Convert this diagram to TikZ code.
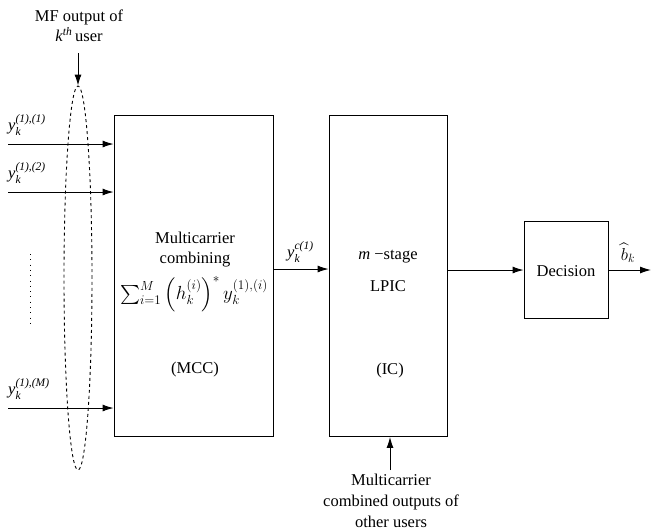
\documentclass[tikz,border=0pt]{standalone}
\usepackage{amsmath}
\usepackage{graphicx}
\usepackage{fontspec}
\setmainfont{Liberation Serif}
\usetikzlibrary{arrows.meta,shapes.geometric}
\begin{document}
\begin{tikzpicture}[x=1pt,y=-1pt,
  every node/.style={font=\rmfamily\fontsize{16.5}{20}\selectfont, inner sep=0pt},
  blk/.style={draw, line width=0.9pt},
  arr/.style={line width=0.9pt, -{Latex[length=11pt,width=7pt]}},
  lbl/.style={anchor=south west}]
\useasboundingbox (0,0) rectangle (651,531);
% blocks
\node[blk, minimum width=159pt, minimum height=321pt] (mcc) at (193.5,276) {};
\node[blk, minimum width=118pt, minimum height=321pt] (ic) at (388,276) {};
\node[blk, minimum width=84pt, minimum height=97pt] (dec) at (566,269.5) {};
% texts in blocks
\node[align=center] (mcct) at (195,250) {Multicarrier\\combining};
\node (form) at (194,294) {\resizebox{148pt}{!}{$\sum_{i=1}^{M}\left(h_k^{(i)}\right)^{*} y_k^{(1),(i)}$}};
\node (mccl) at (195,370) {(MCC)};
\node (ict1) at (388,257) {\textit{m} −stage};
\node (ict2) at (388,286) {LPIC};
\node (icl) at (390,371) {(IC)};
\node (dect) at (566,271) {Decision};
% inputs
\coordinate (in1) at (8,144);
\coordinate (in2) at (8,192);
\coordinate (inM) at (8,408);
\draw[arr] (in1) -- (in1 -| mcc.west);
\draw[arr] (in2) -- (in2 -| mcc.west);
\draw[arr] (inM) -- (inM -| mcc.west);
\node[lbl] (l1) at (8,136) {$\textit{y}_{\textit{k}}^{\textit{(1),(1)}}$};
\node[lbl] (l2) at (8,184) {$\textit{y}_{\textit{k}}^{\textit{(1),(2)}}$};
\node[lbl] (lM) at (8,400) {$\textit{y}_{\textit{k}}^{\textit{(1),(M)}}$};
% vertical dots
\coordinate (d1) at (30,254);
\coordinate (d2) at (30,328);
\draw[line width=0.8pt, dash pattern=on 0.8pt off 4.5pt] (d1) -- (d2);
% dashed ellipse
\node[draw, dashed, line width=0.9pt, ellipse, minimum width=28pt, minimum height=384pt] (ell) at (78,278) {};
% MF output
\node[align=center] (mf) at (79,26) {MF output of\\\textit{k}\textsuperscript{\textit{th}}\,user};
\coordinate (mfa) at (78,53);
\draw[arr] (mfa) -- (ell.north);
% connections
\coordinate (c1) at (mcc.east |- 0,269);
\draw[arr] (c1) -- (c1 -| ic.west);
\node[lbl] (lc) at (287,263) {$\textit{y}_{\textit{k}}^{\textit{c(1)}}$};
\draw[arr] (ic.east |- 0,270) -- (dec.west |- 0,270);
\coordinate (out) at (651,270);
\draw[arr] (dec.east |- 0,270) -- (out);
\node[font=\rmfamily\fontsize{18}{22}\selectfont] (bk) at (628,253) {$\widehat{b}_k$};
% bottom input
\coordinate (bt) at (390,470);
\draw[arr] (bt) -- (bt |- ic.south);
\node[align=center, font=\rmfamily\fontsize{16.5}{21}\selectfont] (btt) at (391,501) {Multicarrier\\combined outputs of\\other users};
\end{tikzpicture}
\end{document}
